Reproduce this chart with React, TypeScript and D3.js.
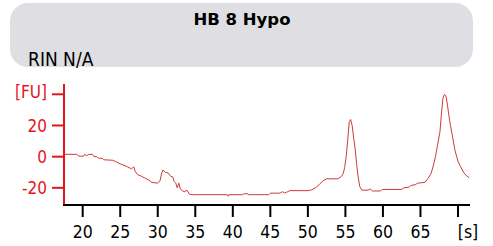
import React from "react";
import * as d3 from "d3";

// electropherogram trace, time [s] vs fluorescence [FU]
const times = [
  17.5, 19.2, 19.5, 20.1, 20.3, 20.5, 20.8, 21.3, 21.5, 21.9, 22.1, 22.6, 22.8,
  24.0, 24.4, 25.0, 25.5, 26.0, 26.5, 26.8, 27.0, 27.3, 27.8, 28.2, 28.8, 29.2,
  30.0, 30.3, 30.5, 30.7, 31.0, 31.4, 31.7, 32.0, 32.2, 32.4, 32.6, 32.8, 33.0,
  33.3, 33.6, 33.9, 34.2, 34.6, 39.3, 39.4, 39.5, 41.3, 41.5, 42.0, 42.1, 44.8,
  45.0, 46.3, 46.6, 46.9, 47.3, 47.6, 50.0, 50.5, 51.0, 51.5, 52.0, 52.5, 54.0,
  54.4, 54.7, 54.9, 55.1, 55.3, 55.5, 55.7, 55.9, 56.1, 56.3, 56.5, 56.7, 56.9,
  57.2, 58.0, 58.3, 58.6, 59.7, 59.9, 62.5, 62.8, 63.5, 63.7, 64.3, 64.6, 65.6,
  66.0, 66.4, 66.7, 67.0, 67.3, 67.6, 67.8, 68.0, 68.2, 68.4, 68.6, 68.8, 69.0,
  69.3, 69.6, 70.0, 70.4, 70.8, 71.2, 71.5,
];
const fu = [
  1.5, 1.5, 0.3, 0.3, 1.6, 0.5, 1.5, 1.5, 0, 0, -1, -1, -2, -2.3, -3.2, -4.6,
  -5.5, -6.6, -7.8, -6.5, -9.5, -11.5, -12.5, -13.5, -15, -16.5, -17, -15.5,
  -11, -8.5, -10, -10.5, -12.5, -13, -16, -17, -20, -17, -20.5, -22, -22.5,
  -21.5, -24, -24.4, -24.4, -25.4, -24.4, -24.4, -23.8, -23.8, -24.4, -24.4,
  -23.4, -23.4, -22.5, -23.3, -22.5, -21.8, -21.8, -21.3, -20, -18, -15.5,
  -14.2, -14.2, -13, -11, -7, 0, 10, 22, 23.8, 20, 12, 5, -5, -13, -19, -21.5,
  -21.5, -20.7, -22, -22, -21, -21, -20, -19.5, -18.5, -18, -17, -16.5, -14,
  -11, -6, 0, 8, 16, 28, 37.5, 40, 39, 33, 26, 20, 12, 4, -3, -7, -10.5, -12.5,
  -13.5,
];

const xTicks = [20, 25, 30, 35, 40, 45, 50, 55, 60, 65, 70];
const xTickLabels = ["20", "25", "30", "35", "40", "45", "50", "55", "60", "65", "[s]"];
const yTicks = [-20, 0, 20, 40];
const yTickLabels = ["-20", "0", "20", "[FU]"];

const title = "HB 8 Hypo";
const subtitle = "RIN N/A";

const W = 493;
const H = 246;
const font = "'DejaVu Sans Condensed', 'Liberation Sans', sans-serif";
const axisRed = "#e3161d";

export default function App() {
  const x = d3.scaleLinear().domain([17.51, 71.6]).range([64, 470]);
  const y = d3.scaleLinear().domain([-31, 46.6]).range([205, 84]);

  const data = times.map((t, i) => [t, fu[i]] as [number, number]);
  const line = d3
    .line<[number, number]>()
    .x((d) => x(d[0]))
    .y((d) => y(d[1]));

  return (
    <svg
      width={W}
      height={H}
      style={{ position: "absolute", left: 0, top: 0, display: "block" }}
      fontFamily={font}
    >
      <rect x={10} y={3} width={463} height={64} rx={18} fill="#dfdfe3" />
      <text
        x={242}
        y={25}
        textAnchor="middle"
        fontWeight="bold"
        fontSize={16.5}
        fontFamily="'DejaVu Sans', sans-serif"
      >
        {title}
      </text>
      <text x={28} y={66} fontSize={19}>
        {subtitle}
      </text>

      {/* trace */}
      <path d={line(data) || ""} fill="none" stroke="#cc3b3b" strokeWidth={1} />

      {/* y axis */}
      <line x1={64} x2={64} y1={84} y2={205} stroke={axisRed} strokeWidth={2} />
      {yTicks.map((v, i) => (
        <g key={v}>
          <line x1={52} x2={64} y1={y(v)} y2={y(v)} stroke={axisRed} strokeWidth={2} />
          <text
            x={47}
            y={y(v) - (i === yTicks.length - 1 ? 2 : 0)}
            dy="0.36em"
            textAnchor="end"
            fontSize={17}
            fill={axisRed}
          >
            {yTickLabels[i]}
          </text>
        </g>
      ))}

      {/* x axis */}
      <line x1={63} x2={470} y1={205} y2={205} stroke="#000" strokeWidth={2} />
      {xTicks.map((t, i) => (
        <g key={t}>
          <line x1={x(t)} x2={x(t)} y1={205} y2={217} stroke="#000" strokeWidth={2} />
          <text
            x={x(t) + (i === xTicks.length - 1 ? 10 : 0)}
            y={238}
            textAnchor="middle"
            fontSize={17.5}
          >
            {xTickLabels[i]}
          </text>
        </g>
      ))}
    </svg>
  );
}
